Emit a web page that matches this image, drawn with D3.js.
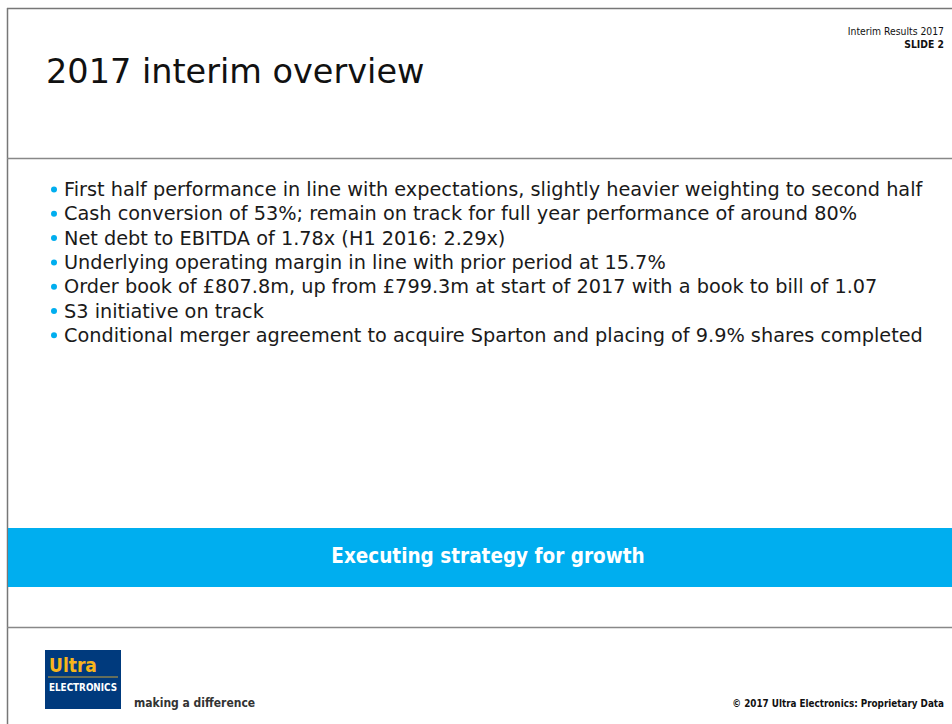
<!DOCTYPE html>
<html>
<head>
<meta charset="utf-8">
<script src="https://cdn.jsdelivr.net/npm/d3@7"></script>
<style>
  body { margin: 0; background: #fff; }
  svg text { font-family: "DejaVu Sans Condensed", "DejaVu Sans", sans-serif; }
  svg text.wide { font-family: "DejaVu Sans", sans-serif; }
</style>
</head>
<body>
<div id="slide"></div>
<script>
// slide content
var title = "2017 interim overview";
var headerLines = ["Interim Results 2017", "SLIDE 2"];
var bullets = [
  "First half performance in line with expectations, slightly heavier weighting to second half",
  "Cash conversion of 53%; remain on track for full year performance of around 80%",
  "Net debt to EBITDA of 1.78x (H1 2016: 2.29x)",
  "Underlying operating margin in line with prior period at 15.7%",
  "Order book of £807.8m, up from £799.3m at start of 2017 with a book to bill of 1.07",
  "S3 initiative on track",
  "Conditional merger agreement to acquire Sparton and placing of 9.9% shares completed"
];
var banner = "Executing strategy for growth";
var tagline = "making a difference";
var copyright = "© 2017 Ultra Electronics: Proprietary Data";

var width = 952, height = 724;

var svg = d3.select('#slide')
  .append('svg')
    .attr('width', width)
    .attr('height', height);

// frame lines
svg.append('line').attr('x1', 7.5).attr('y1', 8).attr('x2', 7.5).attr('y2', height).attr('stroke', '#777').attr('stroke-width', 1.5);
svg.append('line').attr('x1', 7).attr('y1', 8.5).attr('x2', width).attr('y2', 8.5).attr('stroke', '#777').attr('stroke-width', 1.5);
svg.append('line').attr('x1', 7).attr('y1', 158.5).attr('x2', width).attr('y2', 158.5).attr('stroke', '#888').attr('stroke-width', 1.5);
svg.append('line').attr('x1', 7).attr('y1', 627.5).attr('x2', width).attr('y2', 627.5).attr('stroke', '#888').attr('stroke-width', 1.5);

// header
svg.selectAll('.hdr')
  .data(headerLines).enter()
  .append('text')
    .attr('x', 944)
    .attr('y', function(d, i) { return 35 + i * 13; })
    .attr('text-anchor', 'end')
    .style('font-size', '10.3px')
    .style('font-weight', function(d, i) { return i == 1 ? 'bold' : 'normal'; })
    .style('fill', '#111')
    .text(function(d) { return d; });

svg.append('text')
  .attr('class', 'wide')
  .attr('x', 46).attr('y', 83)
  .style('font-size', '33.5px')
  .style('fill', '#111')
  .text(title);

// bullets
var y = d3.scaleBand()
  .domain(d3.range(bullets.length))
  .range([177, 177 + 24.3 * bullets.length]);

var rows = svg.selectAll('.bullet')
  .data(bullets).enter()
  .append('g')
    .attr('transform', function(d, i) { return 'translate(0,' + y(i) + ')'; });

rows.append('circle')
  .attr('cx', 54).attr('cy', 12.5).attr('r', 3)
  .style('fill', '#00aeef');

rows.append('text')
  .attr('class', 'wide')
  .attr('x', 64).attr('y', 19)
  .style('font-size', '19.3px')
  .style('fill', '#1a1a1a')
  .text(function(d) { return d; });

// banner
svg.append('rect')
  .attr('x', 8).attr('y', 528).attr('width', width - 8).attr('height', 59)
  .style('fill', '#00aeef');
svg.append('text')
  .attr('x', 488).attr('y', 563)
  .attr('text-anchor', 'middle')
  .style('font-size', '20.5px')
  .style('font-weight', 'bold')
  .style('fill', '#fff')
  .text(banner);

// logo
var logo = svg.append('g').attr('transform', 'translate(45,650)');
logo.append('rect').attr('width', 76).attr('height', 59).style('fill', '#003a7d');
logo.append('text').attr('x', 4).attr('y', 22)
  .style('font-size', '19px').style('font-weight', 'bold').style('fill', '#f7b51c')
  .text('Ultra');
logo.append('line').attr('x1', 3).attr('x2', 73).attr('y1', 27).attr('y2', 27)
  .attr('stroke', '#c9a23a').attr('stroke-width', 1);
logo.append('text').attr('x', 4).attr('y', 41)
  .attr('textLength', 68).attr('lengthAdjust', 'spacingAndGlyphs')
  .style('font-size', '10.5px').style('font-weight', 'bold').style('fill', '#fff')
  .text('ELECTRONICS');

svg.append('text')
  .attr('x', 134).attr('y', 707)
  .style('font-size', '12px')
  .style('font-weight', 'bold')
  .style('fill', '#333')
  .text(tagline);

svg.append('text')
  .attr('x', 944).attr('y', 707)
  .attr('text-anchor', 'end')
  .style('font-size', '9.8px')
  .style('font-weight', 'bold')
  .style('fill', '#111')
  .text(copyright);
</script>
</body>
</html>
